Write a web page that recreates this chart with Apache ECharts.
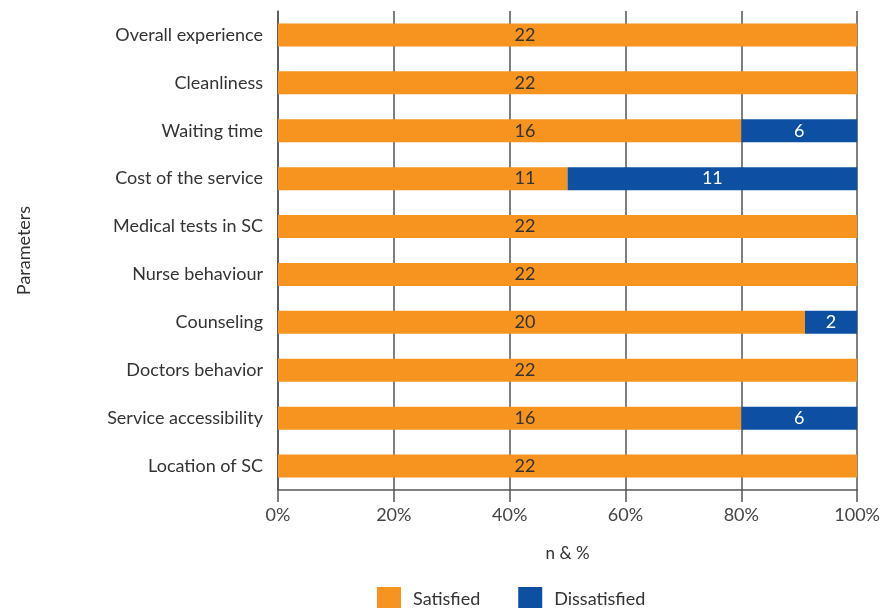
<!DOCTYPE html>
<html><head><meta charset="utf-8">
<script src="https://cdn.jsdelivr.net/npm/echarts@6/dist/echarts.min.js"></script>
<style>html,body{margin:0;padding:0;background:#fff}#c{width:883px;height:608px}</style>
</head><body><div id="c"></div>
<script>
// Categories (top to bottom as shown)
const categories = ["Overall experience","Cleanliness","Waiting time","Cost of the service","Medical tests in SC","Nurse behaviour","Counseling","Doctors behavior","Service accessibility","Location of SC"];
// Bar lengths (% of row) as drawn
const satisfiedPct    = [100,100,80,50,100,100,91,100,80,100];
const dissatisfiedPct = [0,0,20,50,0,0,9,0,20,0];
// Counts shown as labels
const satisfiedN    = [22,22,16,11,22,22,20,22,16,22];
const dissatisfiedN = [0,0,6,11,0,0,2,0,6,0];
const xTicks = [0,20,40,60,80,100];

const FONT = "Lato";
const cats = categories.slice().reverse();
const sP = satisfiedPct.slice().reverse(), dP = dissatisfiedPct.slice().reverse();
const sN = satisfiedN.slice().reverse(), dN = dissatisfiedN.slice().reverse();

const chart = echarts.init(document.getElementById('c'));
chart.setOption({
  animation:false,
  textStyle:{fontFamily:FONT},
  grid:{left:278,right:25,top:11,height:479},
  legend:{
    left:372, top:582, itemWidth:24, itemHeight:24, itemGap:38,
    icon:'rect',
    textStyle:{fontFamily:FONT,fontSize:18,color:'#333',padding:[0,0,0,7]},
    data:['Satisfied','Dissatisfied']
  },
  xAxis:{
    type:'value', min:0, max:100, interval:20,
    name:'n & %', nameLocation:'middle', nameGap:55,
    nameTextStyle:{fontFamily:FONT,fontSize:17,color:'#333'},
    axisLine:{show:true,lineStyle:{color:'#555',width:1.5}},
    axisTick:{show:true,length:12,lineStyle:{color:'#555',width:1.5}},
    axisLabel:{formatter:v=>v+'%',fontFamily:FONT,fontSize:18,color:'#444',margin:16},
    splitLine:{show:true,lineStyle:{color:'#555',width:1.5}}
  },
  yAxis:{
    type:'category', data:cats,
    name:'Parameters', nameLocation:'middle', nameGap:245, nameRotate:90,
    nameTextStyle:{fontFamily:FONT,fontSize:18,color:'#333'},
    axisLine:{show:true,lineStyle:{color:'#555',width:1.5}},
    axisTick:{show:false},
    axisLabel:{fontFamily:FONT,fontSize:18,color:'#333',margin:15}
  },
  series:[
    {name:'Satisfied',type:'bar',stack:'a',barWidth:23,
     itemStyle:{color:'#F7941F'},
     data:sP,
     label:{show:true,position:[247,'50%'],align:'center',verticalAlign:'middle',
       fontFamily:FONT,fontSize:18,color:'#333',
       formatter:p=>sN[p.dataIndex]>0?String(sN[p.dataIndex]):''}},
    {name:'Dissatisfied',type:'bar',stack:'a',barWidth:23,
     itemStyle:{color:'#0D4FA3'},
     data:dP.map(v=>v>0?v:'-'),
     label:{show:true,position:'inside',
       fontFamily:FONT,fontSize:18,color:'#fff',
       formatter:p=>dN[p.dataIndex]>0?String(dN[p.dataIndex]):''}}
  ]
});
</script></body></html>
